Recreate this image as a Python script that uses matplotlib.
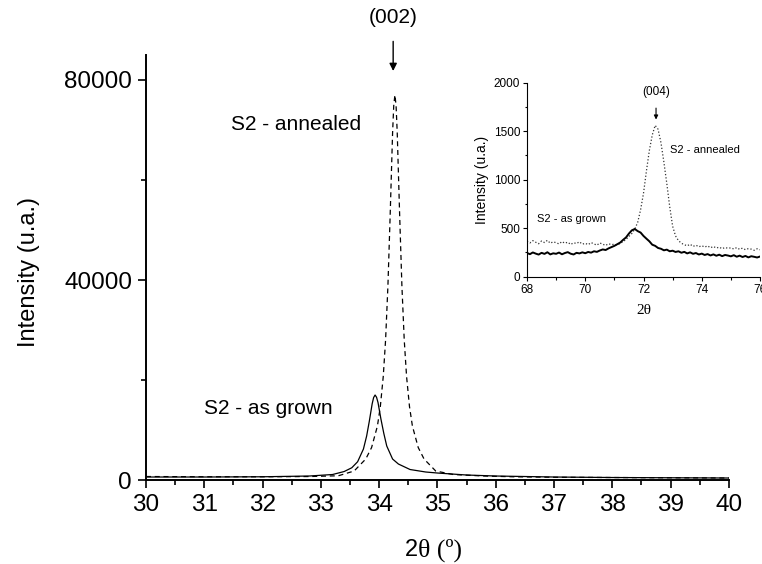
import numpy as np
import matplotlib
matplotlib.use('Agg')
import matplotlib.pyplot as plt
from matplotlib.ticker import MultipleLocator

plt.rcParams['font.family'] = ['Liberation Sans', 'DejaVu Sans']

# Main pattern: (002) reflection
annealed_x = [30.0, 31.0, 32.0, 32.8, 33.3, 33.57, 33.77, 33.87, 33.97, 34.02,
              34.07, 34.11, 34.15, 34.19, 34.23, 34.25, 34.27, 34.29, 34.31, 34.35,
              34.39, 34.43, 34.47, 34.52, 34.57, 34.67, 34.77, 34.97, 35.27, 35.8,
              36.3, 37.0, 38.0, 39.0, 40.0]
annealed_y = [700, 650, 650, 700, 850, 1800, 4200, 6500, 10800, 14700,
              20700, 28000, 38800, 53500, 69400, 74900, 77000, 74900, 69400, 53500,
              38800, 28000, 20700, 14700, 10800, 6500, 4200, 1800, 1100, 800,
              650, 550, 500, 450, 400]

grown_x = [30.0, 31.0, 32.0, 32.8, 33.2, 33.4, 33.53, 33.63, 33.73, 33.785,
           33.83, 33.88, 33.905, 33.93, 33.955, 33.98, 34.03, 34.08, 34.13, 34.23,
           34.33, 34.53, 34.8, 35.0, 35.5, 36.0, 37.0, 38.0, 39.0, 40.0]
grown_y = [600, 600, 650, 800, 1100, 1700, 2450, 3650, 6200, 8800,
           11700, 15250, 16500, 17000, 16550, 15500, 12200, 9300, 6800, 4200,
           3200, 2100, 1600, 1400, 1000, 800, 600, 500, 450, 400]

# Inset: (004) reflection, sampled every 0.1 deg from 68 to 76
inset_x = np.round(np.arange(68.0, 76.001, 0.1), 1)
inset_grown = [245, 232, 250, 238, 228, 246, 235, 252, 230, 241,
               236, 249, 231, 244, 253, 237, 229, 246, 240, 251,
               242, 255, 248, 262, 256, 270, 281, 275, 292, 305,
               318, 335, 352, 380, 405, 445, 478, 492, 470, 455,
               420, 392, 365, 330, 318, 296, 288, 272, 279, 262,
               268, 255, 262, 247, 256, 240, 251, 236, 244, 229,
               238, 224, 233, 219, 230, 216, 227, 212, 224, 218,
               210, 222, 206, 217, 203, 214, 199, 211, 205, 198,
               208]
inset_annealed = [365, 348, 372, 355, 340, 368, 352, 375, 345, 360,
                  350, 338, 362, 345, 356, 332, 350, 342, 360, 335,
                  345, 330, 352, 338, 325, 348, 335, 322, 340, 330,
                  335, 325, 345, 360, 385, 415, 445, 490, 560, 690,
                  860, 1090, 1300, 1460, 1560, 1520, 1380, 1180, 960, 720,
                  520, 420, 372, 345, 330, 318, 335, 312, 325, 308,
                  320, 305, 318, 298, 312, 295, 305, 288, 302, 292,
                  298, 285, 300, 282, 295, 278, 290, 284, 272, 288,
                  278]

fig = plt.figure(figsize=(7.62, 5.64), dpi=100)
ax = fig.add_axes([0.1916, 0.1489, 0.765, 0.7536])

ax.plot(grown_x, grown_y, color='black', lw=0.9)
ax.plot(annealed_x, annealed_y, color='black', lw=0.9, linestyle=(0, (4, 3)))

ax.set_xlim(30, 40)
ax.set_ylim(0, 85000)
ax.set_xticks(range(30, 41))
ax.set_yticks([0, 40000, 80000])
ax.xaxis.set_minor_locator(MultipleLocator(0.5))
ax.yaxis.set_minor_locator(MultipleLocator(20000))
for s in ['top', 'right']:
    ax.spines[s].set_visible(False)
for s in ['left', 'bottom']:
    ax.spines[s].set_linewidth(1.4)
ax.tick_params(which='major', direction='out', length=6, width=1.2, labelsize=17.5, pad=4)
ax.tick_params(which='minor', direction='out', length=3.5, width=1.2)

ax.set_ylabel('Intensity (u.a.)', fontsize=17)
ax.yaxis.set_label_coords(-0.182, 0.49)
fig.text(0.549, 0.014, '2', fontsize=17, ha='right', va='baseline')
fig.text(0.549, 0.014, '\u03b8 (\u00ba)', fontsize=18.5, ha='left', va='baseline',
         family='Liberation Serif')

ax.text(31.45, 71000, 'S2 - annealed', fontsize=15, va='center')
ax.text(31.0, 14400, 'S2 - as grown', fontsize=15, va='center')
ax.annotate('(002)', xy=(34.24, 81800), xytext=(34.24, 92400),
            ha='center', va='center', fontsize=15, annotation_clip=False,
            arrowprops=dict(arrowstyle='-|>', color='black', lw=1.0,
                            mutation_scale=11, shrinkA=8, shrinkB=0))

# Inset
axi = fig.add_axes([0.6916, 0.5094, 0.3058, 0.344])
axi.plot(inset_x, inset_annealed, color='#333333', lw=0.9, linestyle=':')
axi.plot(inset_x, inset_grown, color='black', lw=1.4)
axi.set_xlim(68, 76)
axi.set_ylim(0, 2000)
axi.set_xticks([68, 70, 72, 74, 76])
axi.set_yticks([0, 500, 1000, 1500, 2000])
axi.xaxis.set_minor_locator(MultipleLocator(1))
axi.yaxis.set_minor_locator(MultipleLocator(250))
for s in ['top', 'right']:
    axi.spines[s].set_visible(False)
axi.tick_params(which='major', direction='out', length=3, width=0.8, labelsize=8.5, pad=2)
axi.tick_params(which='minor', direction='out', length=1.8, width=0.8)
axi.set_ylabel('Intensity (u.a.)', fontsize=10, labelpad=3)
axi.set_xlabel('2\u03b8', fontsize=11, family='Liberation Serif', labelpad=6)
axi.text(68.35, 590, 'S2 - as grown', fontsize=8, va='center')
axi.text(72.9, 1310, 'S2 - annealed', fontsize=8, va='center')
axi.annotate('(004)', xy=(72.43, 1620), xytext=(72.43, 1900),
             ha='center', va='center', fontsize=8.5,
             arrowprops=dict(arrowstyle='-|>', color='black', lw=0.8,
                             mutation_scale=6, shrinkA=5, shrinkB=0))

plt.savefig('out.png', dpi=100)
